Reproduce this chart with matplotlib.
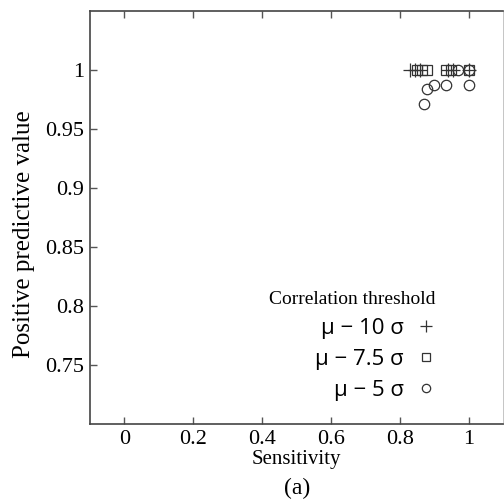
import matplotlib
matplotlib.use("Agg")
import matplotlib.pyplot as plt

sens_10 = [0.83, 0.845, 0.86, 0.94, 0.955, 1.0]
ppv_10 = [1.0, 1.0, 1.0, 1.0, 1.0, 1.0]
sens_75 = [0.85, 0.865, 0.88, 0.935, 0.95, 1.0]
ppv_75 = [1.0, 1.0, 1.0, 1.0, 1.0, 1.0]
sens_5 = [0.87, 0.88, 0.90, 0.935, 0.97, 1.0, 1.0]
ppv_5 = [0.971, 0.984, 0.987, 0.987, 1.0, 0.987, 1.0]

labels = ["μ − 10 σ", "μ − 7.5 σ", "μ − 5 σ"]
xticks = [0, 0.2, 0.4, 0.6, 0.8, 1]
yticks = [0.75, 0.8, 0.85, 0.9, 0.95, 1]

serif = "Liberation Serif"
plt.rcParams["font.family"] = serif

fig = plt.figure(figsize=(5.04, 5.01), dpi=100)
ax = fig.add_axes([0.1786, 0.1537, 0.8194, 0.8243])

ax.plot(sens_10, ppv_10, linestyle="none", marker="+", ms=10, mew=0.9,
        color="#333333", label=labels[0])
ax.plot(sens_75, ppv_75, linestyle="none", marker="s", ms=6.5, mew=0.9,
        mfc="none", color="#333333", label=labels[1])
ax.plot(sens_5, ppv_5, linestyle="none", marker="o", ms=7.5, mew=0.9,
        mfc="none", color="#333333", label=labels[2])

ax.set_xlim(-0.1, 1.1)
ax.set_ylim(0.7, 1.05)
ax.set_xticks(xticks)
ax.set_xticklabels(["0", "0.2", "0.4", "0.6", "0.8", "1"])
ax.set_yticks(yticks)
ax.set_yticklabels(["0.75", "0.8", "0.85", "0.9", "0.95", "1"])
ax.tick_params(direction="in", length=5, width=1, labelsize=16, pad=4,
               top=True, right=False, color="#555555")
for s in ax.spines.values():
    s.set_color("#444444")
    s.set_linewidth(1.2)
ax.spines["right"].set_color("#bbbbbb")
ax.spines["right"].set_linewidth(0.6)

ax.set_xlabel("Sensitivity", fontsize=15, labelpad=1)
ax.set_ylabel("Positive predictive value", fontsize=18)
ax.yaxis.set_label_coords(-0.133, 0.46)
fig.text(0.59, 0.003, "(a)", fontsize=17, ha="center", va="bottom")

leg = ax.legend(loc="lower right", bbox_to_anchor=(0.884, 0.008), frameon=False,
                markerfirst=False, handlelength=0.8, handletextpad=0.6,
                labelspacing=0.45, title="Correlation threshold",
                prop={"family": "Open Sans", "size": 16},
                title_fontproperties={"family": serif, "size": 14},
                markerscale=0.8)
leg._legend_box.align = "right"

fig.savefig("out.png", dpi=100)
